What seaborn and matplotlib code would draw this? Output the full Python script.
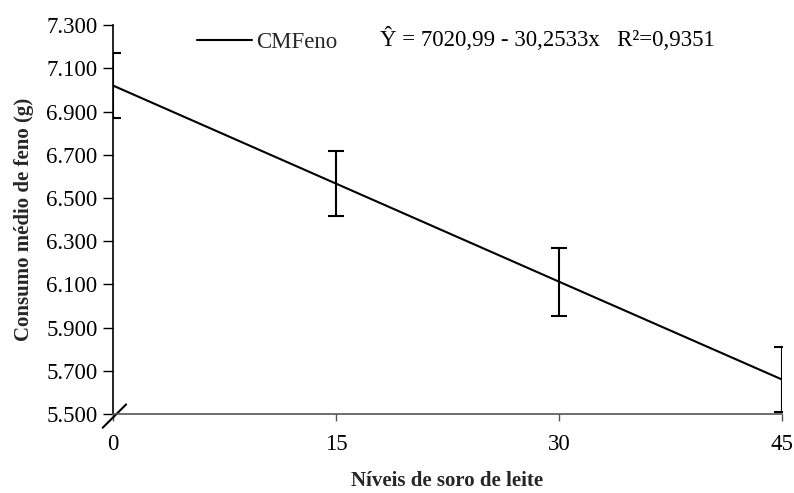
import pandas as pd
import seaborn as sns
import matplotlib.pyplot as plt
from matplotlib.ticker import FuncFormatter

# --- data ---
niveis = [0, 15, 30, 45]
consumo = [7021, 6567, 6113, 5660]      # fitted line values
desvio = [152, 152, 158, 152]            # error bar half-widths
y_ticks = [5500, 5700, 5900, 6100, 6300, 6500, 6700, 6900, 7100, 7300]
x_ticks = [0, 15, 30, 45]

df = pd.DataFrame({"nivel": niveis, "consumo": consumo, "desvio": desvio})

sns.set_theme(style="white")
plt.rcParams["font.family"] = ["Liberation Serif", "DejaVu Serif"]

fig, ax = plt.subplots(figsize=(7.94, 4.93), dpi=100)
fig.subplots_adjust(left=0.142, right=0.985, top=0.949, bottom=0.16)

sns.lineplot(data=df, x="nivel", y="consumo", color="black", linewidth=1.5,
             ax=ax, label="CMFeno")
ax.errorbar(df["nivel"], df["consumo"], yerr=df["desvio"], fmt="none",
            ecolor="black", elinewidth=1.5, capsize=6, capthick=1.5)

ax.set_xlim(0, 45)
ax.set_ylim(5500, 7300)
ax.set_xticks(x_ticks)
ax.set_yticks(y_ticks)
ax.yaxis.set_major_formatter(FuncFormatter(lambda v, p: f"{int(v):,}".replace(",", ".")))
ax.tick_params(axis="both", labelsize=16.5, colors="black", direction="out")
ax.tick_params(axis="y", length=7, width=1, pad=4)
ax.tick_params(axis="x", length=5, width=1, pad=9, color="#555555")
ax.xaxis.set_ticks_position("bottom")
ax.yaxis.set_ticks_position("left")

sns.despine(ax=ax)
ax.spines["left"].set_color("black")
ax.spines["left"].set_linewidth(1.2)
ax.spines["bottom"].set_color("#555555")
ax.spines["bottom"].set_linewidth(1.2)

ax.set_xlabel("Níveis de soro de leite", fontsize=15, fontweight="bold", labelpad=12)
ax.set_ylabel("Consumo médio de feno (g)", fontsize=15, fontweight="bold", labelpad=9)

# axis break mark
ax.plot([-0.015, 0.02], [-0.035, 0.025], transform=ax.transAxes, color="black",
        linewidth=1.5, clip_on=False)

leg = ax.legend(loc="upper left", bbox_to_anchor=(0.095, 1.035), frameon=False,
                fontsize=16.5, handlelength=2.4, handletextpad=0.2)
ax.text(0.40, 0.965, "Ŷ = 7020,99 - 30,2533x   R²=0,9351", transform=ax.transAxes,
        fontsize=16.5, va="center", ha="left", color="black")

fig.savefig("out.png", dpi=100)
plt.close()
